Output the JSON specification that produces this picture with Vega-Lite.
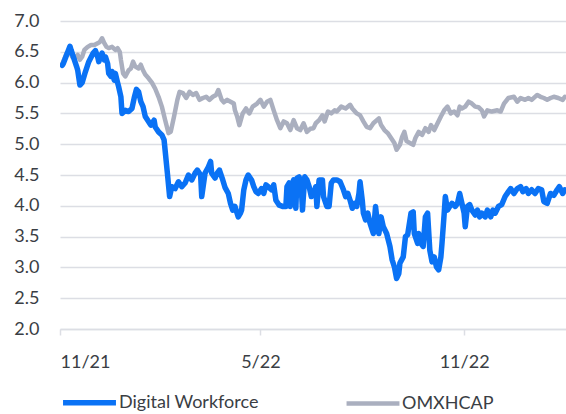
{
  "$schema": "https://vega.github.io/schema/vega-lite/v6.json",
  "width": 506,
  "height": 308,
  "autosize": {"type": "none"},
  "padding": {"left": 60, "top": 21, "right": 0, "bottom": 85},
  "background": "white",
  "config": {
    "view": {"stroke": null},
    "font": "Lato",
    "axis": {"labelFont": "Lato", "labelColor": "#3a3e44", "labelFontSize": 18, "gridColor": "#dcdee4", "gridWidth": 1.5, "domainColor": "#dcdee4", "tickColor": "#dcdee4", "domainWidth": 1.5, "tickWidth": 1.5},
    "legend": {"labelFont": "Lato", "labelFontSize": 18, "labelColor": "#3a3e44"}
  },
  "data": {"values": [
    {"date":"2021-11-03","series":"OMXHCAP","value":6.3},
    {"date":"2021-11-07","series":"OMXHCAP","value":6.48},
    {"date":"2021-11-10","series":"OMXHCAP","value":6.5},
    {"date":"2021-11-12","series":"OMXHCAP","value":6.42},
    {"date":"2021-11-14","series":"OMXHCAP","value":6.39},
    {"date":"2021-11-17","series":"OMXHCAP","value":6.45},
    {"date":"2021-11-19","series":"OMXHCAP","value":6.37},
    {"date":"2021-11-21","series":"OMXHCAP","value":6.42},
    {"date":"2021-11-23","series":"OMXHCAP","value":6.53},
    {"date":"2021-11-26","series":"OMXHCAP","value":6.58},
    {"date":"2021-11-29","series":"OMXHCAP","value":6.61},
    {"date":"2021-12-02","series":"OMXHCAP","value":6.61},
    {"date":"2021-12-05","series":"OMXHCAP","value":6.64},
    {"date":"2021-12-07","series":"OMXHCAP","value":6.66},
    {"date":"2021-12-09","series":"OMXHCAP","value":6.72},
    {"date":"2021-12-11","series":"OMXHCAP","value":6.64},
    {"date":"2021-12-13","series":"OMXHCAP","value":6.58},
    {"date":"2021-12-15","series":"OMXHCAP","value":6.56},
    {"date":"2021-12-18","series":"OMXHCAP","value":6.58},
    {"date":"2021-12-21","series":"OMXHCAP","value":6.53},
    {"date":"2021-12-23","series":"OMXHCAP","value":6.56},
    {"date":"2021-12-25","series":"OMXHCAP","value":6.5},
    {"date":"2021-12-26","series":"OMXHCAP","value":6.37},
    {"date":"2021-12-28","series":"OMXHCAP","value":6.15},
    {"date":"2021-12-30","series":"OMXHCAP","value":6.1},
    {"date":"2022-01-02","series":"OMXHCAP","value":6.2},
    {"date":"2022-01-04","series":"OMXHCAP","value":6.23},
    {"date":"2022-01-06","series":"OMXHCAP","value":6.34},
    {"date":"2022-01-08","series":"OMXHCAP","value":6.26},
    {"date":"2022-01-11","series":"OMXHCAP","value":6.23},
    {"date":"2022-01-13","series":"OMXHCAP","value":6.29},
    {"date":"2022-01-15","series":"OMXHCAP","value":6.2},
    {"date":"2022-01-17","series":"OMXHCAP","value":6.13},
    {"date":"2022-01-20","series":"OMXHCAP","value":6.07},
    {"date":"2022-01-23","series":"OMXHCAP","value":6.0},
    {"date":"2022-01-26","series":"OMXHCAP","value":5.9},
    {"date":"2022-01-29","series":"OMXHCAP","value":5.77},
    {"date":"2022-02-01","series":"OMXHCAP","value":5.61},
    {"date":"2022-02-04","series":"OMXHCAP","value":5.39},
    {"date":"2022-02-07","series":"OMXHCAP","value":5.18},
    {"date":"2022-02-09","series":"OMXHCAP","value":5.2},
    {"date":"2022-02-12","series":"OMXHCAP","value":5.45},
    {"date":"2022-02-15","series":"OMXHCAP","value":5.72},
    {"date":"2022-02-17","series":"OMXHCAP","value":5.85},
    {"date":"2022-02-20","series":"OMXHCAP","value":5.83},
    {"date":"2022-02-23","series":"OMXHCAP","value":5.75},
    {"date":"2022-02-26","series":"OMXHCAP","value":5.85},
    {"date":"2022-03-01","series":"OMXHCAP","value":5.8},
    {"date":"2022-03-04","series":"OMXHCAP","value":5.83},
    {"date":"2022-03-07","series":"OMXHCAP","value":5.72},
    {"date":"2022-03-10","series":"OMXHCAP","value":5.75},
    {"date":"2022-03-13","series":"OMXHCAP","value":5.77},
    {"date":"2022-03-16","series":"OMXHCAP","value":5.72},
    {"date":"2022-03-19","series":"OMXHCAP","value":5.77},
    {"date":"2022-03-22","series":"OMXHCAP","value":5.8},
    {"date":"2022-03-24","series":"OMXHCAP","value":5.88},
    {"date":"2022-03-27","series":"OMXHCAP","value":5.72},
    {"date":"2022-03-29","series":"OMXHCAP","value":5.68},
    {"date":"2022-04-01","series":"OMXHCAP","value":5.72},
    {"date":"2022-04-04","series":"OMXHCAP","value":5.69},
    {"date":"2022-04-07","series":"OMXHCAP","value":5.66},
    {"date":"2022-04-08","series":"OMXHCAP","value":5.55},
    {"date":"2022-04-10","series":"OMXHCAP","value":5.45},
    {"date":"2022-04-12","series":"OMXHCAP","value":5.31},
    {"date":"2022-04-15","series":"OMXHCAP","value":5.5},
    {"date":"2022-04-18","series":"OMXHCAP","value":5.58},
    {"date":"2022-04-21","series":"OMXHCAP","value":5.5},
    {"date":"2022-04-24","series":"OMXHCAP","value":5.61},
    {"date":"2022-04-28","series":"OMXHCAP","value":5.66},
    {"date":"2022-05-01","series":"OMXHCAP","value":5.72},
    {"date":"2022-05-04","series":"OMXHCAP","value":5.61},
    {"date":"2022-05-07","series":"OMXHCAP","value":5.69},
    {"date":"2022-05-10","series":"OMXHCAP","value":5.72},
    {"date":"2022-05-13","series":"OMXHCAP","value":5.55},
    {"date":"2022-05-16","series":"OMXHCAP","value":5.39},
    {"date":"2022-05-19","series":"OMXHCAP","value":5.26},
    {"date":"2022-05-22","series":"OMXHCAP","value":5.37},
    {"date":"2022-05-25","series":"OMXHCAP","value":5.34},
    {"date":"2022-05-28","series":"OMXHCAP","value":5.23},
    {"date":"2022-05-31","series":"OMXHCAP","value":5.39},
    {"date":"2022-06-03","series":"OMXHCAP","value":5.26},
    {"date":"2022-06-06","series":"OMXHCAP","value":5.23},
    {"date":"2022-06-09","series":"OMXHCAP","value":5.34},
    {"date":"2022-06-12","series":"OMXHCAP","value":5.2},
    {"date":"2022-06-15","series":"OMXHCAP","value":5.25},
    {"date":"2022-06-18","series":"OMXHCAP","value":5.26},
    {"date":"2022-06-20","series":"OMXHCAP","value":5.34},
    {"date":"2022-06-23","series":"OMXHCAP","value":5.39},
    {"date":"2022-06-26","series":"OMXHCAP","value":5.47},
    {"date":"2022-06-28","series":"OMXHCAP","value":5.37},
    {"date":"2022-07-01","series":"OMXHCAP","value":5.53},
    {"date":"2022-07-04","series":"OMXHCAP","value":5.5},
    {"date":"2022-07-07","series":"OMXHCAP","value":5.55},
    {"date":"2022-07-09","series":"OMXHCAP","value":5.53},
    {"date":"2022-07-13","series":"OMXHCAP","value":5.61},
    {"date":"2022-07-17","series":"OMXHCAP","value":5.58},
    {"date":"2022-07-21","series":"OMXHCAP","value":5.64},
    {"date":"2022-07-23","series":"OMXHCAP","value":5.58},
    {"date":"2022-07-27","series":"OMXHCAP","value":5.5},
    {"date":"2022-07-30","series":"OMXHCAP","value":5.47},
    {"date":"2022-08-02","series":"OMXHCAP","value":5.37},
    {"date":"2022-08-05","series":"OMXHCAP","value":5.28},
    {"date":"2022-08-08","series":"OMXHCAP","value":5.26},
    {"date":"2022-08-11","series":"OMXHCAP","value":5.34},
    {"date":"2022-08-16","series":"OMXHCAP","value":5.42},
    {"date":"2022-08-18","series":"OMXHCAP","value":5.31},
    {"date":"2022-08-21","series":"OMXHCAP","value":5.23},
    {"date":"2022-08-24","series":"OMXHCAP","value":5.18},
    {"date":"2022-08-27","series":"OMXHCAP","value":5.1},
    {"date":"2022-08-30","series":"OMXHCAP","value":5.02},
    {"date":"2022-09-01","series":"OMXHCAP","value":4.91},
    {"date":"2022-09-04","series":"OMXHCAP","value":4.99},
    {"date":"2022-09-06","series":"OMXHCAP","value":5.12},
    {"date":"2022-09-08","series":"OMXHCAP","value":5.2},
    {"date":"2022-09-10","series":"OMXHCAP","value":5.05},
    {"date":"2022-09-13","series":"OMXHCAP","value":5.02},
    {"date":"2022-09-16","series":"OMXHCAP","value":4.99},
    {"date":"2022-09-18","series":"OMXHCAP","value":5.1},
    {"date":"2022-09-21","series":"OMXHCAP","value":5.2},
    {"date":"2022-09-24","series":"OMXHCAP","value":5.15},
    {"date":"2022-09-27","series":"OMXHCAP","value":5.26},
    {"date":"2022-09-30","series":"OMXHCAP","value":5.2},
    {"date":"2022-10-02","series":"OMXHCAP","value":5.31},
    {"date":"2022-10-05","series":"OMXHCAP","value":5.23},
    {"date":"2022-10-08","series":"OMXHCAP","value":5.34},
    {"date":"2022-10-11","series":"OMXHCAP","value":5.45},
    {"date":"2022-10-14","series":"OMXHCAP","value":5.55},
    {"date":"2022-10-17","series":"OMXHCAP","value":5.61},
    {"date":"2022-10-20","series":"OMXHCAP","value":5.5},
    {"date":"2022-10-23","series":"OMXHCAP","value":5.53},
    {"date":"2022-10-26","series":"OMXHCAP","value":5.47},
    {"date":"2022-10-28","series":"OMXHCAP","value":5.61},
    {"date":"2022-10-30","series":"OMXHCAP","value":5.58},
    {"date":"2022-11-02","series":"OMXHCAP","value":5.61},
    {"date":"2022-11-05","series":"OMXHCAP","value":5.69},
    {"date":"2022-11-08","series":"OMXHCAP","value":5.66},
    {"date":"2022-11-11","series":"OMXHCAP","value":5.61},
    {"date":"2022-11-14","series":"OMXHCAP","value":5.6},
    {"date":"2022-11-17","series":"OMXHCAP","value":5.55},
    {"date":"2022-11-19","series":"OMXHCAP","value":5.45},
    {"date":"2022-11-22","series":"OMXHCAP","value":5.55},
    {"date":"2022-11-26","series":"OMXHCAP","value":5.53},
    {"date":"2022-12-01","series":"OMXHCAP","value":5.55},
    {"date":"2022-12-04","series":"OMXHCAP","value":5.53},
    {"date":"2022-12-07","series":"OMXHCAP","value":5.66},
    {"date":"2022-12-11","series":"OMXHCAP","value":5.75},
    {"date":"2022-12-16","series":"OMXHCAP","value":5.77},
    {"date":"2022-12-19","series":"OMXHCAP","value":5.69},
    {"date":"2022-12-22","series":"OMXHCAP","value":5.75},
    {"date":"2022-12-26","series":"OMXHCAP","value":5.72},
    {"date":"2022-12-29","series":"OMXHCAP","value":5.75},
    {"date":"2023-01-01","series":"OMXHCAP","value":5.72},
    {"date":"2023-01-06","series":"OMXHCAP","value":5.8},
    {"date":"2023-01-09","series":"OMXHCAP","value":5.77},
    {"date":"2023-01-12","series":"OMXHCAP","value":5.75},
    {"date":"2023-01-15","series":"OMXHCAP","value":5.72},
    {"date":"2023-01-18","series":"OMXHCAP","value":5.75},
    {"date":"2023-01-21","series":"OMXHCAP","value":5.77},
    {"date":"2023-01-25","series":"OMXHCAP","value":5.75},
    {"date":"2023-01-29","series":"OMXHCAP","value":5.72},
    {"date":"2023-01-31","series":"OMXHCAP","value":5.77},
    {"date":"2021-11-03","series":"Digital Workforce","value":6.28},
    {"date":"2021-11-04","series":"Digital Workforce","value":6.31},
    {"date":"2021-11-10","series":"Digital Workforce","value":6.59},
    {"date":"2021-11-11","series":"Digital Workforce","value":6.53},
    {"date":"2021-11-13","series":"Digital Workforce","value":6.42},
    {"date":"2021-11-16","series":"Digital Workforce","value":6.26},
    {"date":"2021-11-17","series":"Digital Workforce","value":6.2},
    {"date":"2021-11-19","series":"Digital Workforce","value":5.96},
    {"date":"2021-11-21","series":"Digital Workforce","value":6.0},
    {"date":"2021-11-24","series":"Digital Workforce","value":6.18},
    {"date":"2021-11-27","series":"Digital Workforce","value":6.34},
    {"date":"2021-12-01","series":"Digital Workforce","value":6.48},
    {"date":"2021-12-03","series":"Digital Workforce","value":6.52},
    {"date":"2021-12-05","series":"Digital Workforce","value":6.42},
    {"date":"2021-12-06","series":"Digital Workforce","value":6.34},
    {"date":"2021-12-09","series":"Digital Workforce","value":6.48},
    {"date":"2021-12-11","series":"Digital Workforce","value":6.37},
    {"date":"2021-12-12","series":"Digital Workforce","value":6.42},
    {"date":"2021-12-14","series":"Digital Workforce","value":6.31},
    {"date":"2021-12-15","series":"Digital Workforce","value":6.15},
    {"date":"2021-12-17","series":"Digital Workforce","value":6.1},
    {"date":"2021-12-18","series":"Digital Workforce","value":6.18},
    {"date":"2021-12-20","series":"Digital Workforce","value":6.04},
    {"date":"2021-12-21","series":"Digital Workforce","value":6.15},
    {"date":"2021-12-23","series":"Digital Workforce","value":6.0},
    {"date":"2021-12-24","series":"Digital Workforce","value":5.93},
    {"date":"2021-12-26","series":"Digital Workforce","value":5.77},
    {"date":"2021-12-27","series":"Digital Workforce","value":5.5},
    {"date":"2021-12-30","series":"Digital Workforce","value":5.55},
    {"date":"2022-01-02","series":"Digital Workforce","value":5.53},
    {"date":"2022-01-05","series":"Digital Workforce","value":5.58},
    {"date":"2022-01-07","series":"Digital Workforce","value":5.75},
    {"date":"2022-01-09","series":"Digital Workforce","value":5.89},
    {"date":"2022-01-11","series":"Digital Workforce","value":5.85},
    {"date":"2022-01-13","series":"Digital Workforce","value":5.69},
    {"date":"2022-01-15","series":"Digital Workforce","value":5.61},
    {"date":"2022-01-17","series":"Digital Workforce","value":5.45},
    {"date":"2022-01-22","series":"Digital Workforce","value":5.31},
    {"date":"2022-01-25","series":"Digital Workforce","value":5.39},
    {"date":"2022-01-26","series":"Digital Workforce","value":5.28},
    {"date":"2022-01-29","series":"Digital Workforce","value":5.2},
    {"date":"2022-02-01","series":"Digital Workforce","value":5.15},
    {"date":"2022-02-03","series":"Digital Workforce","value":5.07},
    {"date":"2022-02-06","series":"Digital Workforce","value":4.53},
    {"date":"2022-02-08","series":"Digital Workforce","value":4.15},
    {"date":"2022-02-10","series":"Digital Workforce","value":4.31},
    {"date":"2022-02-13","series":"Digital Workforce","value":4.28},
    {"date":"2022-02-16","series":"Digital Workforce","value":4.39},
    {"date":"2022-02-19","series":"Digital Workforce","value":4.31},
    {"date":"2022-02-22","series":"Digital Workforce","value":4.37},
    {"date":"2022-02-25","series":"Digital Workforce","value":4.5},
    {"date":"2022-02-28","series":"Digital Workforce","value":4.42},
    {"date":"2022-03-03","series":"Digital Workforce","value":4.53},
    {"date":"2022-03-05","series":"Digital Workforce","value":4.58},
    {"date":"2022-03-08","series":"Digital Workforce","value":4.5},
    {"date":"2022-03-09","series":"Digital Workforce","value":4.15},
    {"date":"2022-03-12","series":"Digital Workforce","value":4.53},
    {"date":"2022-03-15","series":"Digital Workforce","value":4.63},
    {"date":"2022-03-17","series":"Digital Workforce","value":4.72},
    {"date":"2022-03-18","series":"Digital Workforce","value":4.53},
    {"date":"2022-03-21","series":"Digital Workforce","value":4.45},
    {"date":"2022-03-23","series":"Digital Workforce","value":4.53},
    {"date":"2022-03-25","series":"Digital Workforce","value":4.58},
    {"date":"2022-03-28","series":"Digital Workforce","value":4.42},
    {"date":"2022-03-30","series":"Digital Workforce","value":4.3},
    {"date":"2022-04-02","series":"Digital Workforce","value":4.2},
    {"date":"2022-04-04","series":"Digital Workforce","value":4.04},
    {"date":"2022-04-06","series":"Digital Workforce","value":3.93},
    {"date":"2022-04-08","series":"Digital Workforce","value":3.99},
    {"date":"2022-04-11","series":"Digital Workforce","value":3.82},
    {"date":"2022-04-13","series":"Digital Workforce","value":3.88},
    {"date":"2022-04-14","series":"Digital Workforce","value":3.93},
    {"date":"2022-04-16","series":"Digital Workforce","value":4.26},
    {"date":"2022-04-18","series":"Digital Workforce","value":4.42},
    {"date":"2022-04-20","series":"Digital Workforce","value":4.5},
    {"date":"2022-04-23","series":"Digital Workforce","value":4.42},
    {"date":"2022-04-25","series":"Digital Workforce","value":4.31},
    {"date":"2022-04-27","series":"Digital Workforce","value":4.23},
    {"date":"2022-04-29","series":"Digital Workforce","value":4.2},
    {"date":"2022-05-02","series":"Digital Workforce","value":4.28},
    {"date":"2022-05-04","series":"Digital Workforce","value":4.2},
    {"date":"2022-05-06","series":"Digital Workforce","value":4.34},
    {"date":"2022-05-08","series":"Digital Workforce","value":4.31},
    {"date":"2022-05-11","series":"Digital Workforce","value":4.26},
    {"date":"2022-05-13","series":"Digital Workforce","value":4.34},
    {"date":"2022-05-15","series":"Digital Workforce","value":4.09},
    {"date":"2022-05-18","series":"Digital Workforce","value":4.01},
    {"date":"2022-05-21","series":"Digital Workforce","value":3.99},
    {"date":"2022-05-24","series":"Digital Workforce","value":3.99},
    {"date":"2022-05-25","series":"Digital Workforce","value":4.31},
    {"date":"2022-05-27","series":"Digital Workforce","value":4.37},
    {"date":"2022-05-28","series":"Digital Workforce","value":3.99},
    {"date":"2022-05-30","series":"Digital Workforce","value":4.37},
    {"date":"2022-05-31","series":"Digital Workforce","value":4.42},
    {"date":"2022-06-02","series":"Digital Workforce","value":3.96},
    {"date":"2022-06-03","series":"Digital Workforce","value":4.45},
    {"date":"2022-06-05","series":"Digital Workforce","value":4.47},
    {"date":"2022-06-07","series":"Digital Workforce","value":4.26},
    {"date":"2022-06-08","series":"Digital Workforce","value":3.93},
    {"date":"2022-06-10","series":"Digital Workforce","value":4.47},
    {"date":"2022-06-12","series":"Digital Workforce","value":4.42},
    {"date":"2022-06-14","series":"Digital Workforce","value":4.31},
    {"date":"2022-06-16","series":"Digital Workforce","value":4.15},
    {"date":"2022-06-18","series":"Digital Workforce","value":4.2},
    {"date":"2022-06-20","series":"Digital Workforce","value":4.31},
    {"date":"2022-06-21","series":"Digital Workforce","value":3.99},
    {"date":"2022-06-23","series":"Digital Workforce","value":4.42},
    {"date":"2022-06-26","series":"Digital Workforce","value":4.42},
    {"date":"2022-06-27","series":"Digital Workforce","value":4.15},
    {"date":"2022-06-30","series":"Digital Workforce","value":3.99},
    {"date":"2022-07-02","series":"Digital Workforce","value":3.99},
    {"date":"2022-07-04","series":"Digital Workforce","value":4.37},
    {"date":"2022-07-06","series":"Digital Workforce","value":4.42},
    {"date":"2022-07-09","series":"Digital Workforce","value":4.42},
    {"date":"2022-07-12","series":"Digital Workforce","value":4.39},
    {"date":"2022-07-15","series":"Digital Workforce","value":4.26},
    {"date":"2022-07-17","series":"Digital Workforce","value":4.15},
    {"date":"2022-07-19","series":"Digital Workforce","value":4.2},
    {"date":"2022-07-21","series":"Digital Workforce","value":4.09},
    {"date":"2022-07-23","series":"Digital Workforce","value":3.96},
    {"date":"2022-07-25","series":"Digital Workforce","value":4.04},
    {"date":"2022-07-27","series":"Digital Workforce","value":3.99},
    {"date":"2022-07-29","series":"Digital Workforce","value":4.2},
    {"date":"2022-07-30","series":"Digital Workforce","value":4.39},
    {"date":"2022-08-01","series":"Digital Workforce","value":4.09},
    {"date":"2022-08-02","series":"Digital Workforce","value":3.88},
    {"date":"2022-08-04","series":"Digital Workforce","value":3.77},
    {"date":"2022-08-06","series":"Digital Workforce","value":3.88},
    {"date":"2022-08-08","series":"Digital Workforce","value":3.72},
    {"date":"2022-08-11","series":"Digital Workforce","value":3.55},
    {"date":"2022-08-13","series":"Digital Workforce","value":3.99},
    {"date":"2022-08-14","series":"Digital Workforce","value":3.82},
    {"date":"2022-08-16","series":"Digital Workforce","value":3.55},
    {"date":"2022-08-18","series":"Digital Workforce","value":3.82},
    {"date":"2022-08-20","series":"Digital Workforce","value":3.66},
    {"date":"2022-08-23","series":"Digital Workforce","value":3.55},
    {"date":"2022-08-26","series":"Digital Workforce","value":3.34},
    {"date":"2022-08-28","series":"Digital Workforce","value":3.12},
    {"date":"2022-08-30","series":"Digital Workforce","value":3.01},
    {"date":"2022-09-01","series":"Digital Workforce","value":2.82},
    {"date":"2022-09-03","series":"Digital Workforce","value":2.9},
    {"date":"2022-09-04","series":"Digital Workforce","value":3.07},
    {"date":"2022-09-07","series":"Digital Workforce","value":3.17},
    {"date":"2022-09-09","series":"Digital Workforce","value":3.5},
    {"date":"2022-09-11","series":"Digital Workforce","value":3.53},
    {"date":"2022-09-14","series":"Digital Workforce","value":3.88},
    {"date":"2022-09-16","series":"Digital Workforce","value":3.9},
    {"date":"2022-09-17","series":"Digital Workforce","value":3.55},
    {"date":"2022-09-20","series":"Digital Workforce","value":3.39},
    {"date":"2022-09-21","series":"Digital Workforce","value":3.55},
    {"date":"2022-09-23","series":"Digital Workforce","value":3.39},
    {"date":"2022-09-25","series":"Digital Workforce","value":3.34},
    {"date":"2022-09-27","series":"Digital Workforce","value":3.82},
    {"date":"2022-09-29","series":"Digital Workforce","value":3.88},
    {"date":"2022-10-01","series":"Digital Workforce","value":3.28},
    {"date":"2022-10-03","series":"Digital Workforce","value":3.09},
    {"date":"2022-10-05","series":"Digital Workforce","value":3.17},
    {"date":"2022-10-07","series":"Digital Workforce","value":3.01},
    {"date":"2022-10-09","series":"Digital Workforce","value":2.96},
    {"date":"2022-10-11","series":"Digital Workforce","value":3.17},
    {"date":"2022-10-12","series":"Digital Workforce","value":3.39},
    {"date":"2022-10-14","series":"Digital Workforce","value":3.88},
    {"date":"2022-10-15","series":"Digital Workforce","value":4.15},
    {"date":"2022-10-17","series":"Digital Workforce","value":3.93},
    {"date":"2022-10-19","series":"Digital Workforce","value":3.99},
    {"date":"2022-10-21","series":"Digital Workforce","value":4.04},
    {"date":"2022-10-24","series":"Digital Workforce","value":3.99},
    {"date":"2022-10-26","series":"Digital Workforce","value":4.04},
    {"date":"2022-10-28","series":"Digital Workforce","value":4.2},
    {"date":"2022-10-30","series":"Digital Workforce","value":4.04},
    {"date":"2022-11-01","series":"Digital Workforce","value":3.88},
    {"date":"2022-11-02","series":"Digital Workforce","value":3.66},
    {"date":"2022-11-04","series":"Digital Workforce","value":3.99},
    {"date":"2022-11-06","series":"Digital Workforce","value":4.02},
    {"date":"2022-11-08","series":"Digital Workforce","value":3.93},
    {"date":"2022-11-11","series":"Digital Workforce","value":3.85},
    {"date":"2022-11-13","series":"Digital Workforce","value":3.93},
    {"date":"2022-11-15","series":"Digital Workforce","value":3.82},
    {"date":"2022-11-17","series":"Digital Workforce","value":3.88},
    {"date":"2022-11-20","series":"Digital Workforce","value":3.82},
    {"date":"2022-11-22","series":"Digital Workforce","value":3.93},
    {"date":"2022-11-25","series":"Digital Workforce","value":3.82},
    {"date":"2022-11-27","series":"Digital Workforce","value":3.93},
    {"date":"2022-11-29","series":"Digital Workforce","value":3.88},
    {"date":"2022-12-02","series":"Digital Workforce","value":3.99},
    {"date":"2022-12-05","series":"Digital Workforce","value":4.02},
    {"date":"2022-12-08","series":"Digital Workforce","value":4.15},
    {"date":"2022-12-11","series":"Digital Workforce","value":4.23},
    {"date":"2022-12-13","series":"Digital Workforce","value":4.28},
    {"date":"2022-12-16","series":"Digital Workforce","value":4.2},
    {"date":"2022-12-19","series":"Digital Workforce","value":4.28},
    {"date":"2022-12-22","series":"Digital Workforce","value":4.31},
    {"date":"2022-12-24","series":"Digital Workforce","value":4.23},
    {"date":"2022-12-27","series":"Digital Workforce","value":4.28},
    {"date":"2022-12-29","series":"Digital Workforce","value":4.2},
    {"date":"2023-01-01","series":"Digital Workforce","value":4.26},
    {"date":"2023-01-04","series":"Digital Workforce","value":4.2},
    {"date":"2023-01-07","series":"Digital Workforce","value":4.28},
    {"date":"2023-01-10","series":"Digital Workforce","value":4.26},
    {"date":"2023-01-12","series":"Digital Workforce","value":4.07},
    {"date":"2023-01-15","series":"Digital Workforce","value":4.04},
    {"date":"2023-01-18","series":"Digital Workforce","value":4.2},
    {"date":"2023-01-21","series":"Digital Workforce","value":4.17},
    {"date":"2023-01-24","series":"Digital Workforce","value":4.26},
    {"date":"2023-01-26","series":"Digital Workforce","value":4.31},
    {"date":"2023-01-29","series":"Digital Workforce","value":4.2},
    {"date":"2023-01-31","series":"Digital Workforce","value":4.26}
  ]},
  "mark": {"type": "line", "strokeJoin": "round", "strokeCap": "round", "clip": true},
  "encoding": {
    "x": {
      "field": "date", "type": "temporal",
      "scale": {"type": "utc", "domain": [{"year": 2021, "month": 11, "date": 1, "utc": true}, {"year": 2023, "month": 2, "date": 1, "utc": true}]},
      "axis": {"title": null, "grid": false, "format": "%-m/%y", "values": [{"year": 2021, "month": 11, "date": 1, "utc": true}, {"year": 2022, "month": 5, "date": 1, "utc": true}, {"year": 2022, "month": 11, "date": 1, "utc": true}], "tickSize": 6, "labelPadding": 18}
    },
    "y": {
      "field": "value", "type": "quantitative",
      "scale": {"domain": [2, 7], "nice": false, "zero": false},
      "axis": {"title": null, "values": [2, 2.5, 3, 3.5, 4, 4.5, 5, 5.5, 6, 6.5, 7], "format": ".1f", "domain": false, "ticks": false, "labelPadding": 21}
    },
    "color": {
      "field": "series", "type": "nominal",
      "scale": {"domain": ["Digital Workforce", "OMXHCAP"], "range": ["#0a72f5", "#aaafbf"]},
      "legend": {"title": null, "orient": "none", "legendX": 0, "legendY": 352, "direction": "horizontal", "symbolType": "stroke", "symbolSize": 2800, "symbolStrokeWidth": 5.5, "labelOffset": 0, "columnPadding": 78}
    },
    "strokeWidth": {
      "field": "series", "type": "nominal",
      "scale": {"domain": ["Digital Workforce", "OMXHCAP"], "range": [5.5, 4.5]},
      "legend": null
    }
  }
}
